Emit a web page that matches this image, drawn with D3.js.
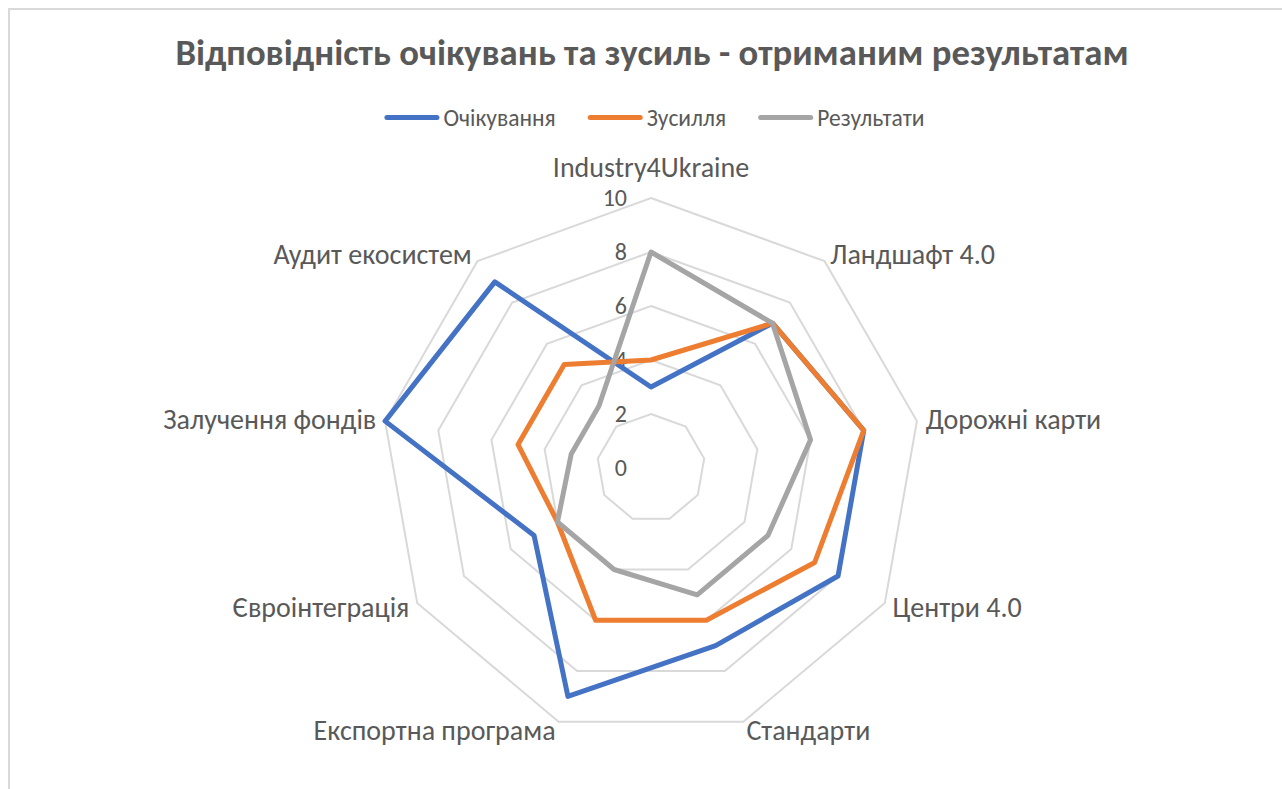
<!DOCTYPE html>
<html>
<head>
<meta charset="utf-8">
<script src="https://cdn.jsdelivr.net/npm/d3@7"></script>
<style>
  html, body { margin: 0; padding: 0; background: #fff; }
  svg { display: block; }
  text { font-family: Carlito, Calibri, "Open Sans", sans-serif; fill: #595959; }
</style>
</head>
<body>
<div id="chart"></div>
<script>
// categories (axes, clockwise from top)
const categories = ["Industry4Ukraine", "Ландшафт 4.0", "Дорожні карти", "Центри 4.0", "Стандарти",
    "Експортна програма", "Євроінтеграція", "Залучення фондів", "Аудит екосистем"];
const seriesNames = ["Очікування", "Зусилля", "Результати"];
const expectations = [3, 7, 8, 8, 7, 9, 5, 10, 9];
const efforts = [4, 7, 8, 7, 6, 6, 4, 5, 5];
const results = [8, 7, 6, 5, 5, 4, 4, 3, 3];
const tickValues = [0, 2, 4, 6, 8, 10];
const titleText = "Відповідність очікувань та зусиль - отриманим результатам";

const width = 1282, height = 789;
const cx = 651, cy = 468, outer = 270;

const colors = d3.scaleOrdinal().domain(seriesNames).range(["#4472C4", "#ED7D31", "#A5A5A5"]);
const seriesValues = [expectations, efforts, results];

const svg = d3.select("#chart").append("svg")
    .attr("width", width)
    .attr("height", height);

// chart area border (runs off right and bottom)
svg.append("rect")
    .attr("x", 9).attr("y", 9)
    .attr("width", width + 20).attr("height", height + 20)
    .attr("fill", "none")
    .attr("stroke", "#d9d9d9")
    .attr("stroke-width", 2);

// title
svg.append("text")
    .attr("x", 652).attr("y", 65)
    .attr("text-anchor", "middle")
    .style("font-size", "36.7px")
    .style("font-weight", "bold")
    .text(titleText);

// scales
const r = d3.scaleLinear().domain([0, 10]).range([0, outer]);
const angle = d3.scaleLinear().domain([0, categories.length]).range([0, 2 * Math.PI]);

const g = svg.append("g").attr("transform", `translate(${cx},${cy})`);

// grid rings
const ring = d3.lineRadial()
    .angle((d, i) => angle(i))
    .radius(d => r(d))
    .curve(d3.curveLinearClosed);

g.selectAll("path.grid")
    .data(tickValues.filter(t => t > 0))
    .join("path")
    .attr("class", "grid")
    .attr("d", t => ring(categories.map(() => t)))
    .attr("fill", "none")
    .attr("stroke", "#d9d9d9")
    .attr("stroke-width", 2);

// value axis labels
g.selectAll("text.tick")
    .data(tickValues)
    .join("text")
    .attr("class", "tick")
    .attr("x", -24)
    .attr("y", d => -r(d))
    .attr("dy", "0.35em")
    .attr("text-anchor", "end")
    .style("font-size", "24px")
    .text(d => d);

// series
const line = d3.lineRadial()
    .angle((d, i) => angle(i))
    .radius(d => r(d))
    .curve(d3.curveLinearClosed);

g.selectAll("path.series")
    .data(seriesValues)
    .join("path")
    .attr("class", "series")
    .attr("d", d => line(d))
    .attr("fill", "none")
    .attr("stroke", (d, i) => colors(seriesNames[i]))
    .attr("stroke-width", 5)
    .attr("stroke-linejoin", "round");

// category labels
const labelR = outer + 9;
g.selectAll("text.cat")
    .data(categories)
    .join("text")
    .attr("class", "cat")
    .attr("x", (d, i) => labelR * Math.sin(angle(i)))
    .attr("y", (d, i) => i === 0 ? -291 : -labelR * Math.cos(angle(i)))
    .attr("dy", (d, i) => i === 0 ? 0 : "0.35em")
    .attr("text-anchor", (d, i) => i === 0 ? "middle" : (Math.sin(angle(i)) > 0 ? "start" : "end"))
    .style("font-size", "28px")
    .text(d => d);

// legend
const legend = svg.append("g");
const items = legend.selectAll("g")
    .data(seriesNames)
    .join("g");
items.append("line")
    .attr("x1", 2.5).attr("x2", 52.5)
    .attr("y1", 0).attr("y2", 0)
    .attr("stroke", d => colors(d))
    .attr("stroke-width", 5)
    .attr("stroke-linecap", "round");
items.append("text")
    .attr("x", 59)
    .attr("dy", "0.35em")
    .style("font-size", "23.5px")
    .text(d => d);

let offset = 0;
const positions = [];
items.each(function () {
    positions.push(offset);
    offset += 59 + this.querySelector("text").getComputedTextLength() + 32;
});
const total = offset - 32;
items.attr("transform", (d, i) => `translate(${654.5 - total / 2 + positions[i]},117.5)`);
</script>
</body>
</html>
